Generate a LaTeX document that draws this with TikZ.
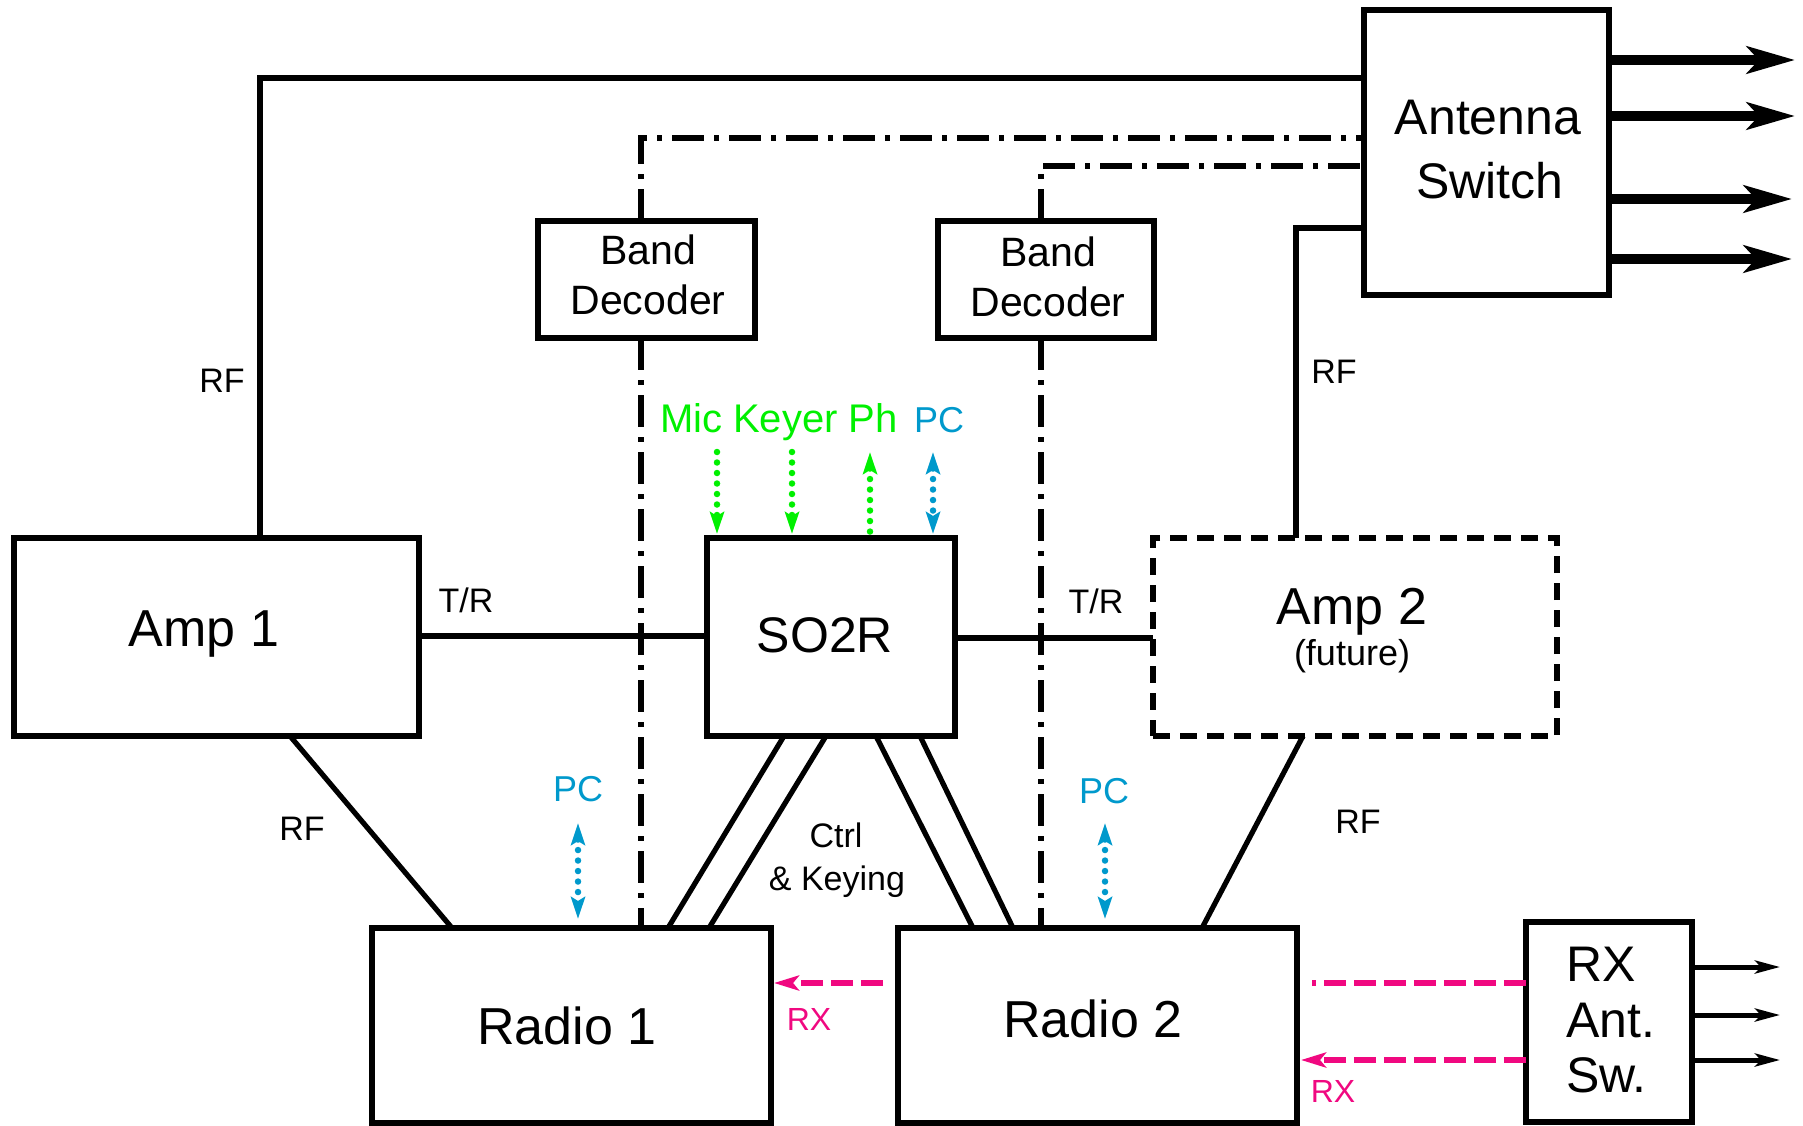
\documentclass[tikz,border=0pt]{standalone}
\usepackage{fontspec}
\setmainfont{Liberation Sans}
\usetikzlibrary{arrows.meta}
\definecolor{grn}{RGB}{0,240,0}
\definecolor{pcb}{RGB}{0,153,204}
\definecolor{rxp}{RGB}{240,8,128}
\newcommand\fBig{\fontsize{52}{60}\selectfont}
\newcommand\fAnt{\fontsize{50}{60}\selectfont}
\newcommand\fBd{\fontsize{41}{50}\selectfont}
\newcommand\fLab{\fontsize{34}{40}\selectfont}
\newcommand\fMic{\fontsize{40}{48}\selectfont}
\newcommand\fPc{\fontsize{36}{42}\selectfont}
\newcommand\fRx{\fontsize{32}{40}\selectfont}
\newcommand\fFut{\fontsize{36}{42}\selectfont}
\begin{document}
\begin{tikzpicture}[x=1pt,y=-1pt,
  box/.style={draw, fill=white, line width=5.5pt, rectangle, inner sep=0pt, outer sep=0pt},
  dbox/.style={box, dash pattern=on 17pt off 10pt},
  conn/.style={line width=5.2pt},
  ddline/.style={line width=5.5pt, dash pattern=on 32pt off 10pt on 5pt off 10pt},
  bigarrow/.style={line width=10pt, -{Stealth[length=48pt,width=27pt,inset=12pt]}},
  smallarrow/.style={line width=5pt, -{Stealth[length=25pt,width=13pt,inset=6pt]}},
  rxline/.style={rxp, line width=6pt, dash pattern=on 22pt off 8pt, >={Stealth[length=25pt,width=15pt,inset=6pt]}},
  dotarrow/.style={line width=6.5pt, line cap=round, dash pattern=on 0pt off 10.5pt, >={Stealth[length=22pt,width=14pt,inset=4pt]}},
  txt/.style={anchor=base, inner sep=0pt, outer sep=0pt}
]
\useasboundingbox (0,0) rectangle (1803,1126);

% boxes
\node[box, minimum width=405pt, minimum height=198pt] (amp1) at (216.5,637) {};
\node[box, minimum width=248pt, minimum height=198pt] (so2r) at (831,637) {};
\node[box, minimum width=245pt, minimum height=285pt] (ant) at (1486.5,152.5) {};
\node[box, minimum width=217pt, minimum height=117pt] (bd1) at (646.5,279.5) {};
\node[box, minimum width=216pt, minimum height=117pt] (bd2) at (1046,279.5) {};
\node[dbox, minimum width=404pt, minimum height=198pt] (amp2) at (1355,637) {};
\node[box, minimum width=399pt, minimum height=195pt] (radio1) at (571.5,1025.5) {};
\node[box, minimum width=399pt, minimum height=195pt] (radio2) at (1097.5,1025.5) {};
\node[box, minimum width=166pt, minimum height=200pt] (rxsw) at (1609,1022) {};

% texts in boxes
\node[txt, font=\fBig] (tamp1) at (204,646) {Amp 1};
\node[txt, font=\fontsize{50}{60}\selectfont] (tso2r) at (825,652) {SO2R};
\node[txt, font=\fAnt] (tant1) at (1488,135) {Antenna};
\node[txt, font=\fAnt] (tant2) at (1490,198) {Switch};
\node[txt, font=\fBd] (tbd1a) at (648,264) {Band};
\node[txt, font=\fBd] (tbd1b) at (648,314) {Decoder};
\node[txt, font=\fBd] (tbd2a) at (1048,266) {Band};
\node[txt, font=\fBd] (tbd2b) at (1048,316) {Decoder};
\node[txt, font=\fBig] (tamp2) at (1352,624) {Amp 2};
\node[txt, font=\fFut] (tfut) at (1352,665) {(future)};
\node[txt, font=\fBig] (tr1) at (567,1044) {Radio 1};
\node[txt, font=\fBig] (tr2) at (1093,1037) {Radio 2};
\node[txt, font=\fAnt, anchor=base west] (trx1) at (1566,981) {RX};
\node[txt, font=\fAnt, anchor=base west] (trx2) at (1566,1037) {Ant.};
\node[txt, font=\fAnt, anchor=base west] (trx3) at (1566,1092) {Sw.};

% labels
\node[txt, font=\fLab] (lrf1) at (222,392) {RF};
\node[txt, font=\fLab] (ltr1) at (466,612) {T/R};
\node[txt, font=\fLab] (ltr2) at (1096,613) {T/R};
\node[txt, font=\fLab] (lrf2) at (1334,383) {RF};
\node[txt, font=\fLab] (lrf3) at (302,840) {RF};
\node[txt, font=\fLab] (lrf4) at (1358,833) {RF};
\node[txt, font=\fLab] (lctrl) at (836,847) {Ctrl};
\node[txt, font=\fLab] (lkey) at (837,890) {\& Keying};
\node[txt, font=\fMic, text=grn, anchor=base west] (lmic) at (660,432) {Mic Keyer Ph};
\node[txt, font=\fPc, text=pcb, anchor=base west] (lpc0) at (914,432) {PC};
\node[txt, font=\fPc, text=pcb] (lpc1) at (578,801) {PC};
\node[txt, font=\fPc, text=pcb] (lpc2) at (1104,803) {PC};
\node[txt, font=\fRx, text=rxp] (lrx1) at (809,1030) {RX};
\node[txt, font=\fRx, text=rxp] (lrx2) at (1333,1102) {RX};

% RF and control lines
\draw[conn] (260,0 |- amp1.north) |- (ant.west |- 0,78);
\draw[conn] (1296,0 |- amp2.north) |- (ant.west |- 0,228);
\draw[ddline] (641,0 |- bd1.north) |- (ant.west |- 0,138);
\draw[ddline] (641,0 |- bd1.south) -- (641,0 |- radio1.north);
\draw[ddline] (1041,0 |- bd2.north) |- (ant.west |- 0,166);
\draw[ddline] (1041,0 |- bd2.south) -- (1041,0 |- radio2.north);
\draw[conn] (amp1.east |- 0,636) -- (so2r.west |- 0,636);
\draw[conn] (so2r.east |- 0,638) -- (amp2.west |- 0,638);
\draw[conn] (290,0 |- amp1.south) -- (452,0 |- radio1.north);
\draw[conn] (1303,0 |- amp2.south) -- (1202,0 |- radio2.north);
\draw[conn] (784,0 |- so2r.south) -- (668,0 |- radio1.north);
\draw[conn] (826,0 |- so2r.south) -- (709,0 |- radio1.north);
\draw[conn] (876,0 |- so2r.south) -- (973,0 |- radio2.north);
\draw[conn] (920,0 |- so2r.south) -- (1013,0 |- radio2.north);

% antenna outputs
\coordinate (o1) at (1795,60);
\coordinate (o2) at (1795,116);
\coordinate (o3) at (1792,199);
\coordinate (o4) at (1792,259);
\draw[bigarrow] (ant.east |- o1) -- (o1);
\draw[bigarrow] (ant.east |- o2) -- (o2);
\draw[bigarrow] (ant.east |- o3) -- (o3);
\draw[bigarrow] (ant.east |- o4) -- (o4);

% RX antenna switch outputs
\coordinate (r1) at (1780,967);
\coordinate (r2) at (1780,1015);
\coordinate (r3) at (1780,1060);
\draw[smallarrow] (rxsw.east |- r1) -- (r1);
\draw[smallarrow] (rxsw.east |- r2) -- (r2);
\draw[smallarrow] (rxsw.east |- r3) -- (r3);

% RX lines
\coordinate (rxa) at (1312,983);
\coordinate (rxb) at (883,983);
\draw[rxline] (rxsw.west |- rxa) -- (rxa);
\draw[rxline,->,shorten >=3pt] (rxb) -- (radio1.east |- rxb);
\draw[rxline,->,shorten >=4pt] (rxsw.west |- 0,1060) -- (radio2.east |- 0,1060);

% dotted arrows
\coordinate (dm) at (717,452);
\coordinate (dk) at (792,452);
\coordinate (dp) at (870,452);
\coordinate (dc) at (933,452);
\draw[dotarrow, grn, ->, shorten >=4pt] (dm) -- (dm |- so2r.north);
\draw[dotarrow, grn, ->, shorten >=4pt] (dk) -- (dk |- so2r.north);
\draw[dotarrow, grn, <-, shorten <=0pt] (dp) -- (dp |- so2r.north);
\draw[dotarrow, pcb, <->, shorten >=4pt] (dc) -- (dc |- so2r.north);
\coordinate (p1) at (578,823);
\coordinate (p2) at (1105,823);
\draw[dotarrow, pcb, <->, shorten >=9pt] (p1) -- (p1 |- radio1.north);
\draw[dotarrow, pcb, <->, shorten >=9pt] (p2) -- (p2 |- radio2.north);
\end{tikzpicture}
\end{document}
